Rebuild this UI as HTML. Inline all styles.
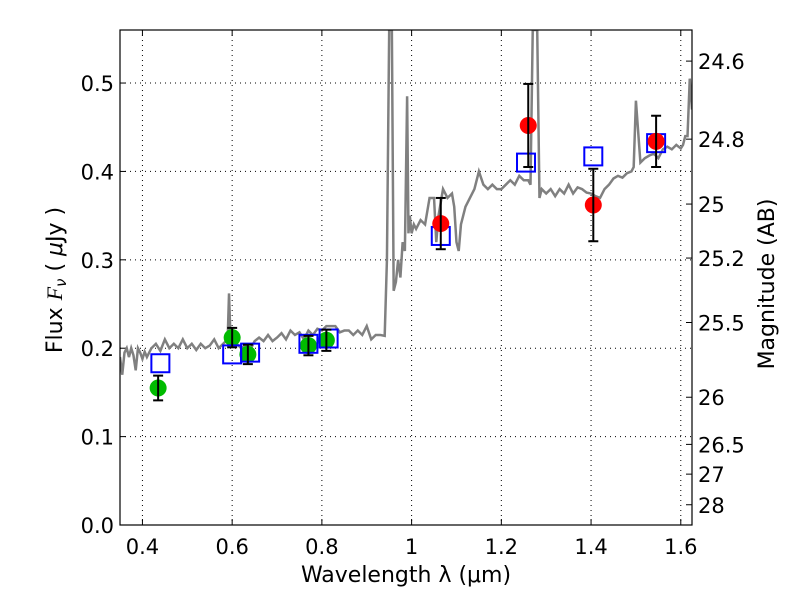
<!DOCTYPE html>
<html><head><meta charset="utf-8"><style>body{margin:0;background:#fff}svg{display:block;font-family:"DejaVu Sans","Liberation Sans",sans-serif}</style></head>
<body>
<svg id="c" width="800" height="600"></svg>
<script>
const xTicks=[0.4,0.6,0.8,1.0,1.2,1.4,1.6];
const xTickLabels=["0.4","0.6","0.8","1","1.2","1.4","1.6"];
const yTicks=[0,0.1,0.2,0.3,0.4,0.5];
const yTickLabels=["0.0","0.1","0.2","0.3","0.4","0.5"];
const magTicks=[24.6,24.8,25,25.2,25.5,26,26.5,27,28];
const magLabels=["24.6","24.8","25","25.2","25.5","26","26.5","27","28"];
const specWave=[0.35,0.355,0.36,0.365,0.37,0.375,0.38,0.385,0.39,0.395,0.40,0.405,0.41,0.42,0.43,0.44,0.45,0.46,0.47,0.48,0.49,0.50,0.51,0.52,0.53,0.54,0.55,0.56,0.57,0.58,0.59,0.593,0.596,0.599,0.61,0.62,0.63,0.64,0.65,0.66,0.67,0.68,0.69,0.70,0.71,0.72,0.73,0.74,0.75,0.76,0.77,0.78,0.79,0.80,0.81,0.82,0.83,0.84,0.85,0.86,0.87,0.88,0.89,0.90,0.91,0.92,0.93,0.94,0.945,0.95,0.953,0.956,0.96,0.965,0.97,0.975,0.98,0.985,0.99,0.993,0.996,1.0,1.005,1.01,1.02,1.03,1.04,1.05,1.055,1.06,1.07,1.08,1.09,1.095,1.10,1.105,1.11,1.12,1.13,1.14,1.15,1.16,1.17,1.18,1.19,1.20,1.21,1.22,1.23,1.24,1.25,1.26,1.265,1.27,1.275,1.28,1.285,1.29,1.30,1.31,1.32,1.33,1.34,1.35,1.36,1.37,1.38,1.39,1.40,1.41,1.42,1.43,1.44,1.45,1.46,1.47,1.48,1.49,1.495,1.50,1.51,1.52,1.53,1.54,1.55,1.56,1.57,1.58,1.59,1.60,1.605,1.61,1.615,1.62,1.625];
const specFlux=[0.19,0.17,0.195,0.2,0.19,0.2,0.192,0.175,0.2,0.195,0.188,0.196,0.19,0.2,0.205,0.197,0.21,0.2,0.205,0.2,0.21,0.2,0.205,0.198,0.205,0.2,0.203,0.21,0.2,0.205,0.21,0.262,0.215,0.21,0.205,0.2,0.203,0.198,0.208,0.212,0.208,0.215,0.208,0.212,0.217,0.21,0.22,0.215,0.218,0.21,0.22,0.215,0.222,0.22,0.225,0.225,0.225,0.218,0.22,0.22,0.215,0.22,0.215,0.225,0.21,0.215,0.215,0.214,0.3,0.56,0.56,0.56,0.265,0.275,0.3,0.28,0.32,0.31,0.485,0.33,0.35,0.33,0.34,0.335,0.345,0.34,0.37,0.37,0.32,0.35,0.38,0.37,0.375,0.36,0.32,0.31,0.34,0.36,0.37,0.38,0.4,0.385,0.38,0.385,0.38,0.38,0.385,0.39,0.385,0.395,0.39,0.39,0.385,0.56,0.56,0.56,0.37,0.38,0.375,0.38,0.372,0.38,0.375,0.385,0.375,0.382,0.38,0.376,0.375,0.372,0.37,0.38,0.385,0.392,0.395,0.393,0.398,0.40,0.405,0.48,0.41,0.415,0.418,0.42,0.415,0.425,0.428,0.425,0.43,0.426,0.43,0.44,0.44,0.505,0.47,0.44];
const greenWave=[0.435,0.6,0.635,0.77,0.81];
const greenFlux=[0.155,0.212,0.193,0.203,0.209];
const greenErr=[0.014,0.011,0.011,0.011,0.012];
const boxWave=[0.44,0.6,0.64,0.77,0.815,1.065,1.255,1.405,1.545];
const boxFlux=[0.183,0.193,0.195,0.205,0.211,0.327,0.41,0.417,0.432];
const redWave=[1.065,1.26,1.405,1.545];
const redFlux=[0.341,0.452,0.362,0.434];
const redErr=[0.029,0.047,0.041,0.029];

const L=120,R=692,T=30,B=525,x0=0.35,x1=1.625,y0=0,y1=0.56;
const X=v=>L+(v-x0)/(x1-x0)*(R-L);
const Y=v=>B-(v-y0)/(y1-y0)*(B-T);
const svg=document.getElementById('c');const NS="http://www.w3.org/2000/svg";
function el(tag,a,txt){const e=document.createElementNS(NS,tag);for(const k in a)e.setAttribute(k,a[k]);if(txt!==undefined)e.textContent=txt;svg.appendChild(e);return e;}
const defs=el('defs',{});const cp=document.createElementNS(NS,'clipPath');cp.setAttribute('id','pc');const cr=document.createElementNS(NS,'rect');cr.setAttribute('x',L);cr.setAttribute('y',T);cr.setAttribute('width',R-L);cr.setAttribute('height',B-T);cp.appendChild(cr);defs.appendChild(cp);
xTicks.forEach((v,i)=>{const x=X(v);
 const g=el('line',{x1:x,x2:x,y1:T,y2:B,stroke:'#000','stroke-dasharray':'1,4','stroke-width':1});
 
 el('line',{x1:x,x2:x,y1:B,y2:B-6,stroke:'#000'});el('line',{x1:x,x2:x,y1:T,y2:T+6,stroke:'#000'});
 const t=el('text',{x:x,y:B+29,'text-anchor':'middle','font-size':21},xTickLabels[i]);
 });
yTicks.forEach((v,i)=>{const y=Y(v);
 const g=el('line',{x1:L,x2:R,y1:y,y2:y,stroke:'#000','stroke-dasharray':'1,4','stroke-width':1});
 
 el('line',{x1:L,x2:L+6,y1:y,y2:y,stroke:'#000'});
 const t=el('text',{x:L-6,y:y+8,'text-anchor':'end','font-size':21},yTickLabels[i]);
 });
magTicks.forEach((m,i)=>{const y=Y(Math.pow(10,(23.9-m)/2.5));
 el('line',{x1:R,x2:R-6,y1:y,y2:y,stroke:'#000'});
 const t=el('text',{x:R+6,y:y+8,'font-size':21},magLabels[i]);
 });
const sp=el('polyline',{points:specWave.map((w,i)=>X(w)+','+Y(specFlux[i])).join(' '),fill:'none',stroke:'#808080','stroke-width':2.5,'clip-path':'url(#pc)'});

function errbar(x,lo,hi){el('line',{x1:x,x2:x,y1:Y(lo),y2:Y(hi),stroke:'#000','stroke-width':2});el('line',{x1:x-5,x2:x+5,y1:Y(lo),y2:Y(lo),stroke:'#000','stroke-width':2});el('line',{x1:x-5,x2:x+5,y1:Y(hi),y2:Y(hi),stroke:'#000','stroke-width':2});}
greenWave.forEach((w,i)=>{const c=el('circle',{cx:X(w),cy:Y(greenFlux[i]),r:8.5,fill:'#00bb00'});
 });
boxWave.forEach((w,i)=>{const r=el('rect',{x:X(w)-9,y:Y(boxFlux[i])-9,width:18,height:18,fill:'none',stroke:'#0000ff','stroke-width':2});
 });
greenWave.forEach((w,i)=>errbar(X(w),greenFlux[i]-greenErr[i],greenFlux[i]+greenErr[i]));
redWave.forEach((w,i)=>{const c=el('circle',{cx:X(w),cy:Y(redFlux[i]),r:8.5,fill:'#ff0000'});
 });
redWave.forEach((w,i)=>errbar(X(w),redFlux[i]-redErr[i],redFlux[i]+redErr[i]));
const fr=el('rect',{x:L,y:T,width:R-L,height:B-T,fill:'none',stroke:'#000','stroke-width':1.2});

const xl=el('text',{x:406,y:582,'text-anchor':'middle','font-size':22},'Wavelength  λ (μm)');

const yl=el('text',{x:0,y:0,'text-anchor':'middle','font-size':22,transform:'translate(62,280) rotate(-90)'});
yl.innerHTML='Flux  <tspan font-style="italic" font-family="Liberation Serif, serif">F</tspan><tspan font-style="italic" font-size="15" dy="4">ν</tspan><tspan dy="-4">  (  </tspan><tspan font-style="italic">μ</tspan>Jy )';

const ml=el('text',{x:0,y:0,'text-anchor':'middle','font-size':22,transform:'translate(774,284) rotate(-90)'},'Magnitude (AB)');

</script>
</body></html>
